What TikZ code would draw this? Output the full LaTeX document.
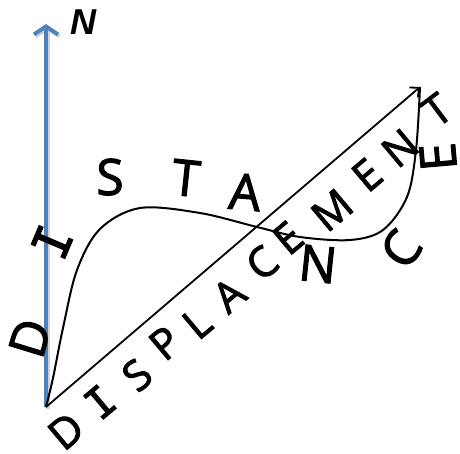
\documentclass[tikz,border=0pt]{standalone}
\usepackage{fontspec}
\setmainfont{Open Sans}
\newfontfamily\handfont[FakeBold=2.2]{Open Sans}
\newfontfamily\serifI[FakeBold=2.2]{DejaVu Sans Mono}
\newfontfamily\labelfont{Liberation Sans}
\usetikzlibrary{arrows.meta}
\definecolor{northblue}{RGB}{79,129,189}
\begin{document}
\begin{tikzpicture}[x=1pt,y=-1pt,
  distletter/.style={font=\fontsize{50}{50}\selectfont\handfont, inner sep=0pt},
  displetter/.style={font=\fontsize{42}{42}\selectfont\handfont, inner sep=0pt, rotate=40},
  northlabel/.style={font=\labelfont\bfseries\itshape\fontsize{36}{36}\selectfont, inner sep=0pt},
  pathline/.style={line width=2pt, black},
  northarrow/.style={line width=4pt, northblue, -{Straight Barb[length=8pt,width=24pt]}},
  disparrow/.style={line width=1.8pt, black, -{Straight Barb[length=7pt,width=13pt]}}]
\useasboundingbox (0,0) rectangle (460,453);
% key points
\coordinate (O) at (46,407);
\coordinate (Ntip) at (46,24);
\coordinate (tip) at (420,87);
\coordinate (c1) at (53,378);
\coordinate (c2) at (63,328);
\coordinate (c3) at (77,270);
\coordinate (c4) at (100,229);
\coordinate (c5) at (140,208);
\coordinate (c6) at (200,213);
\coordinate (c7) at (257,227);
\coordinate (c8) at (300,237);
\coordinate (c9) at (350,240);
\coordinate (c10) at (383,230);
\coordinate (c11) at (407,197);
\coordinate (c12) at (416,150);
% north arrow
\draw[northarrow, gray!35] ([shift={(1.5,2)}]O) -- ([shift={(1.5,2)}]Ntip);
\draw[northarrow] (O) -- (Ntip);
\node[northlabel] (north) at (83,22) {N};
% distance path
\draw[pathline] plot[smooth, tension=0.55] coordinates {(O) (c1) (c2) (c3) (c4) (c5) (c6) (c7) (c8) (c9) (c10) (c11) (c12) (tip)};
% displacement
\draw[disparrow] (O) -- (tip);
% DISTANCE letters
\node[distletter, rotate=73] (dD) at (30,338) {D};
\node[distletter, rotate=67] (dI) at (52,242) {\serifI I};
\node[distletter, rotate=0] (dS) at (110,177) {S};
\node[distletter, rotate=-6] (dT) at (186,178) {T};
\node[distletter, rotate=-5] (dA) at (245,192) {A};
\node[distletter, rotate=-6] (dN) at (318,264) {N};
\node[distletter, rotate=55] (dC) at (401,249) {C};
\node[distletter, rotate=95] (dE) at (438,157) {E};
% DISPLACEMENT letters
\node[displetter] (pD) at (66,431) {D};
\node[displetter] (pI) at (100,402) {\serifI I};
\node[displetter] (pS) at (137,375) {S};
\node[displetter] (pP) at (165,343) {P};
\node[displetter] (pL) at (197,323) {L};
\node[displetter] (pA) at (229,295) {A};
\node[displetter] (pC) at (262,263) {C};
\node[displetter] (pE) at (288,238) {E};
\node[displetter] (pM) at (332,210) {M};
\node[displetter] (pE2) at (367,175) {E};
\node[displetter] (pN) at (400,148) {N};
\node[displetter, rotate=-3] (pT) at (437,110) {T};
\end{tikzpicture}
\end{document}
